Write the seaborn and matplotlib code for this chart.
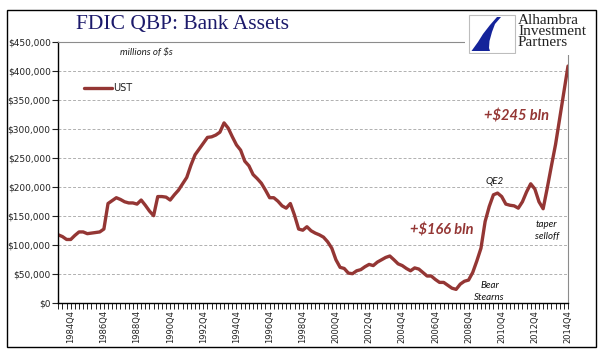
import matplotlib
matplotlib.use("Agg")
import matplotlib.pyplot as plt
from matplotlib.patches import Rectangle, Polygon
from matplotlib.ticker import FuncFormatter
import seaborn as sns
import pandas as pd

# quarterly bank holdings of US Treasuries, $ millions (1984Q1 .. 2014Q4)
years = list(range(1984, 2015))
quarters = [f"{y}Q{q}" for y in years for q in (1, 2, 3, 4)]
ust = [
    117000, 114000, 109000, 109000, 116000, 122000, 122000, 119000,
    120000, 121000, 122000, 127000, 171000, 176000, 181000, 178000,
    174000, 172000, 172000, 170000, 177000, 168000, 158000, 150000,
    183000, 183000, 182000, 177000, 186000, 194000, 205000, 216000,
    237000, 255000, 265000, 275000, 285000, 286000, 289000, 294000,
    310000, 301000, 286000, 272000, 263000, 244000, 236000, 221000,
    214000, 206000, 194000, 181000, 181000, 175000, 167000, 163000,
    171000, 151000, 127000, 125000, 131000, 124000, 120000, 117000,
    113000, 105000, 94000, 74000, 61000, 59000, 51000, 50000,
    55000, 57000, 62000, 66000, 64000, 70000, 74000, 78000,
    80500, 74000, 67000, 64000, 59000, 55000, 60000, 58000,
    52000, 46000, 46000, 40000, 35000, 35000, 30000, 25000,
    23000, 32000, 37000, 39000, 52000, 72000, 94000, 140000,
    166000, 186000, 189000, 183000, 170000, 168000, 167000, 163000,
    174000, 191000, 205000, 196000, 174000, 162000, 198000, 236000,
    273000, 318000, 363000, 408000,
]
tick_labels = [q if q.endswith("Q4") and int(q[:4]) % 2 == 0 else "" for q in quarters]

df = pd.DataFrame({"idx": range(len(ust)), "value": ust})

sns.set_style("white")
plt.rcParams["font.family"] = ["DejaVu Sans"]

W, H = 601, 361
fig = plt.figure(figsize=(W / 100, H / 100), dpi=100)
ax = fig.add_axes([58.3 / W, 1 - 302.7 / H, (568 - 58.3) / W, (302.7 - 41.7) / H])

line_col = "#943634"
sns.lineplot(data=df, x="idx", y="value", ax=ax, color=line_col, linewidth=2.4, label="UST")

ax.set_xlim(0, len(ust) - 1)
ax.set_ylim(0, 450000)
ax.set_xlabel("")
ax.set_ylabel("")

ax.set_yticks(range(0, 450001, 50000))
ax.yaxis.set_major_formatter(FuncFormatter(lambda v, p: f"${v:,.0f}"))
ax.set_xticks(range(len(ust)))
ax.set_xticklabels(tick_labels, rotation=90)
ax.tick_params(axis="y", direction="out", length=4, width=0.8, pad=1.5, labelsize=6.5, colors="#222222")
ax.tick_params(axis="x", direction="out", length=4, width=0.7, pad=1.5, labelsize=6, colors="#222222")
ax.tick_params(left=True, bottom=True)

ax.yaxis.grid(True, linestyle=(0, (3, 2)), color="#b0b0b0", linewidth=0.7)
ax.set_axisbelow(True)
for s in ("left", "bottom"):
    ax.spines[s].set_color("black")
    ax.spines[s].set_linewidth(1.0)
for s in ("top", "right"):
    ax.spines[s].set_color("#8c8c8c")
    ax.spines[s].set_linewidth(0.8)

leg = ax.legend(loc="center left", bbox_to_anchor=(84 / W, 1 - 88 / H), bbox_transform=fig.transFigure,
                frameon=False, fontsize=7, handlelength=2.9, handletextpad=0.1, borderpad=0, borderaxespad=0)
for t in leg.get_texts():
    t.set_color("#222222")

# annotations
ax.text(14.9, 432000, "millions of $s", family="Lato", style="italic", fontsize=7, ha="left", va="center", color="#222222")
ax.text(92.5, 124000, "+$166 bln", family="Lato", style="italic", weight="bold", fontsize=10.5, ha="center", va="center", color=line_col)
ax.text(110.6, 320700, "+$245 bln", family="Lato", style="italic", weight="bold", fontsize=10.5, ha="center", va="center", color=line_col)
ax.text(105.3, 208600, "QE2", family="Lato", style="italic", fontsize=7, ha="center", va="center", color="#111111")
ax.text(104.1, 19000, "Bear\nStearns", family="Lato", style="italic", fontsize=7, ha="center", va="center", color="#111111", linespacing=1.5)
ax.text(117.9, 125000, "taper\nselloff", family="Lato", style="italic", fontsize=7, ha="center", va="center", color="#111111", linespacing=1.4)

# title
fig.text(183 / W, 1 - 24 / H, "FDIC QBP: Bank Assets", family="Liberation Serif", fontsize=15.5,
         color="#1c1a6b", ha="center", va="center")

# logo block
lax = fig.add_axes([467 / W, 1 - 54 / H, (590 - 467) / W, 42 / H])
lax.set_xlim(0, 123)
lax.set_ylim(0, 42)
lax.axis("off")
lax.add_patch(Rectangle((-2, -1), 128, 44, facecolor="white", edgecolor="none", clip_on=False, zorder=0))
lax.add_patch(Rectangle((2, 1), 46, 38, facecolor="white", edgecolor="#bdbdbd", linewidth=0.8, zorder=1))
lax.add_patch(Polygon([(4.5, 3), (11, 12), (16, 20), (23, 29), (30, 37), (34, 37), (28, 30), (25, 22),
                       (22.5, 13), (22, 6), (23, 3)],
                      closed=True, facecolor="#14239a", edgecolor="none", zorder=2))
lax.text(51, 40.5, "Alhambra\nInvestment\nPartners", family="Liberation Serif", fontsize=11,
         color="#222222", ha="left", va="top", linespacing=0.84)

# outer border
fig.patches.append(Rectangle((7 / W, 1 - 347 / H), (596 - 7) / W, (347 - 10) / H, transform=fig.transFigure,
                             fill=False, edgecolor="black", linewidth=1.0))

fig.savefig("out.png", dpi=100)
